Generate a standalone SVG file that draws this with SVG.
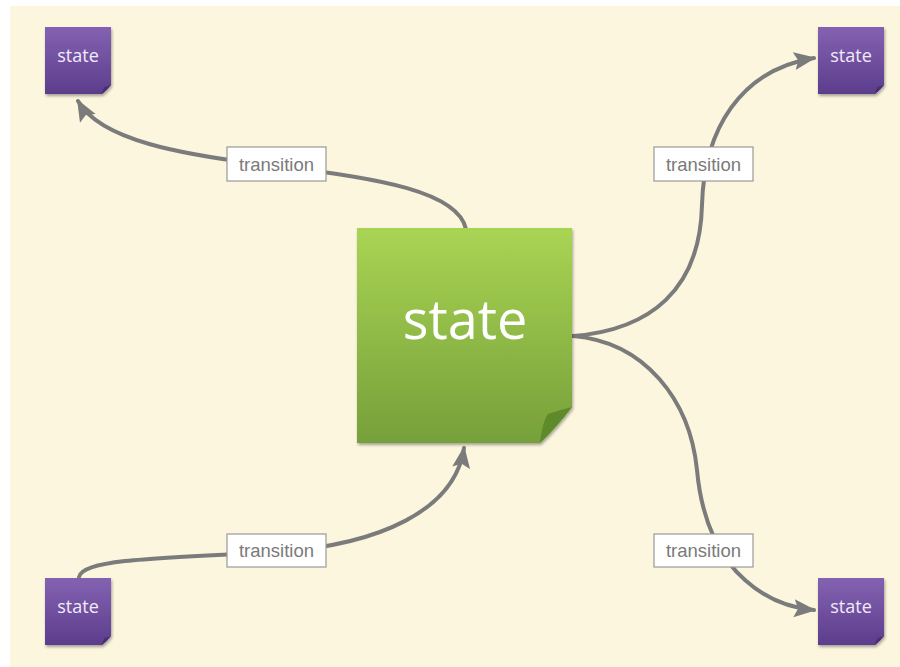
<svg xmlns="http://www.w3.org/2000/svg" width="900" height="667" viewBox="0 0 900 667">
<defs>
<linearGradient id="gGreen" x1="0" y1="0" x2="0" y2="1">
<stop offset="0" stop-color="#a9d453"/>
<stop offset="1" stop-color="#76a03a"/>
</linearGradient>
<linearGradient id="gPurple" x1="0" y1="0" x2="0" y2="1">
<stop offset="0" stop-color="#8462b2"/>
<stop offset="1" stop-color="#5c3d8c"/>
</linearGradient>
<marker id="arr" markerUnits="userSpaceOnUse" markerWidth="22" markerHeight="22" viewBox="0 0 22 22" refX="20" refY="11" orient="auto">
<path d="M0,2 L22,11 L0,20 L4,11 Z" fill="#7b7b7b"/>
</marker>
<filter id="sh" x="-10%" y="-10%" width="130%" height="130%">
<feGaussianBlur in="SourceAlpha" stdDeviation="1.5"/>
<feOffset dx="1" dy="2"/>
<feComponentTransfer><feFuncA type="linear" slope="0.35"/></feComponentTransfer>
<feMerge><feMergeNode/><feMergeNode in="SourceGraphic"/></feMerge>
</filter>
</defs>
<style>
.conn{fill:none;stroke:#7b7b7b;stroke-width:4;stroke-linecap:round}
.lbl rect{fill:#ffffff;stroke:#999999;stroke-width:1.2}
.lbl text{font-family:"Liberation Sans",Arial,sans-serif;font-size:18.5px;fill:#7a7a7a;text-anchor:middle}
.small path.body{fill:url(#gPurple)}
.small path.fold{fill:#4a2f75}
.small text{font-family:"Open Sans","Noto Sans",sans-serif;font-size:18px;fill:#f1ebf8;text-anchor:middle}
</style>
<rect x="0" y="0" width="900" height="667" fill="#ffffff"/>
<rect x="10" y="6" width="890" height="661" fill="#fcf6de"/>

<g id="connectors">
<path class="conn" d="M466,229 C458,192 380,178 276,166 C180,155 100,140 78,101" marker-end="url(#arr)"/>
<path class="conn" d="M573,336 C650,330 700,290 702,205 C704,130 740,70 814,58" marker-end="url(#arr)"/>
<path class="conn" d="M573,336 C645,342 690,400 697,470 C702,525 722,560 745,580 C765,598 790,608 814,610" marker-end="url(#arr)"/>
<path class="conn" d="M79,577 C82,560 150,558 276,552 C380,545 455,510 464,448" marker-end="url(#arr)"/>
</g>

<g id="center">
<g filter="url(#sh)">
<path d="M357,228 H572 V407 Q556,428 540,443 H357 Z" fill="url(#gGreen)"/>
<path d="M540,443 Q543,420 548,414 Q560,410 572,407 Q556,428 540,443 Z" fill="#5e8a2c"/>
</g>
<text x="465" y="339" font-family="'Open Sans','Noto Sans',sans-serif" font-size="54" fill="#ffffff" text-anchor="middle">state</text>
</g>

<g id="state-tl" class="small">
<g filter="url(#sh)">
<path class="body" d="M45,27 H111 V85 Q107,90 102,94 H45 Z"/>
<path class="fold" d="M102,94 Q103,88 105,87 Q108,86 111,85 Q107,90 102,94 Z"/>
</g>
<text x="78" y="62">state</text>
</g>

<g id="state-tr" class="small">
<g filter="url(#sh)">
<path class="body" d="M818,27 H884 V85 Q880,90 875,94 H818 Z"/>
<path class="fold" d="M875,94 Q876,88 878,87 Q881,86 884,85 Q880,90 875,94 Z"/>
</g>
<text x="851" y="62">state</text>
</g>

<g id="state-bl" class="small">
<g filter="url(#sh)">
<path class="body" d="M45,578 H111 V636 Q107,641 102,645 H45 Z"/>
<path class="fold" d="M102,645 Q103,639 105,638 Q108,637 111,636 Q107,641 102,645 Z"/>
</g>
<text x="78" y="613">state</text>
</g>

<g id="state-br" class="small">
<g filter="url(#sh)">
<path class="body" d="M818,578 H884 V636 Q880,641 875,645 H818 Z"/>
<path class="fold" d="M875,645 Q876,639 878,638 Q881,637 884,636 Q880,641 875,645 Z"/>
</g>
<text x="851" y="613">state</text>
</g>

<g id="label-tl" class="lbl">
<rect x="227" y="147" width="99" height="34"/>
<text x="276.5" y="170.5">transition</text>
</g>
<g id="label-tr" class="lbl">
<rect x="654" y="147" width="99" height="34"/>
<text x="703.5" y="170.5">transition</text>
</g>
<g id="label-bl" class="lbl">
<rect x="227" y="534" width="99" height="33"/>
<text x="276.5" y="557">transition</text>
</g>
<g id="label-br" class="lbl">
<rect x="654" y="534" width="99" height="33"/>
<text x="703.5" y="557">transition</text>
</g>
</svg>
